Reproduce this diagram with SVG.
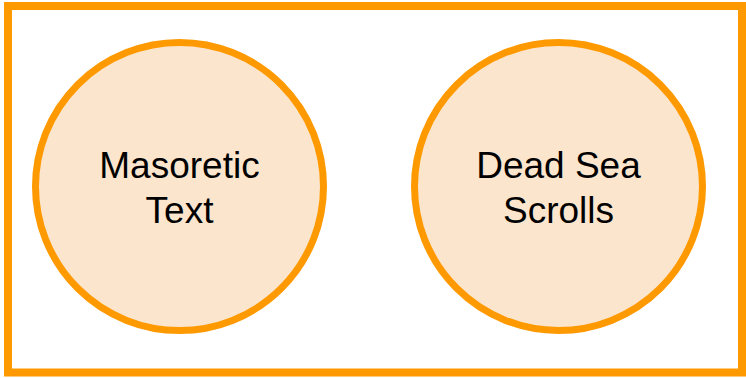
<svg xmlns="http://www.w3.org/2000/svg" width="746" height="378" viewBox="0 0 746 378">
<style>
.frame{fill:#ffffff;stroke:#ff9900;stroke-width:8}
.node circle{fill:#fce5cd;stroke:#ff9900;stroke-width:7}
.node text{font-family:"Liberation Sans",Arial,sans-serif;font-size:37px;fill:#000000;text-anchor:middle}
</style>
<rect x="0" y="0" width="746" height="378" fill="#ffffff"/>
<rect class="frame" x="8" y="6" width="734" height="366.5"/>
<g id="connectors"></g>
<g id="masoretic" class="node">
<circle cx="179.5" cy="186.5" r="144"/>
<text x="179.5" y="178">Masoretic</text>
<text x="179.5" y="223">Text</text>
</g>
<g id="deadsea" class="node">
<circle cx="558.5" cy="186.5" r="144"/>
<text x="558.5" y="178">Dead Sea</text>
<text x="558.5" y="223">Scrolls</text>
</g>
</svg>
